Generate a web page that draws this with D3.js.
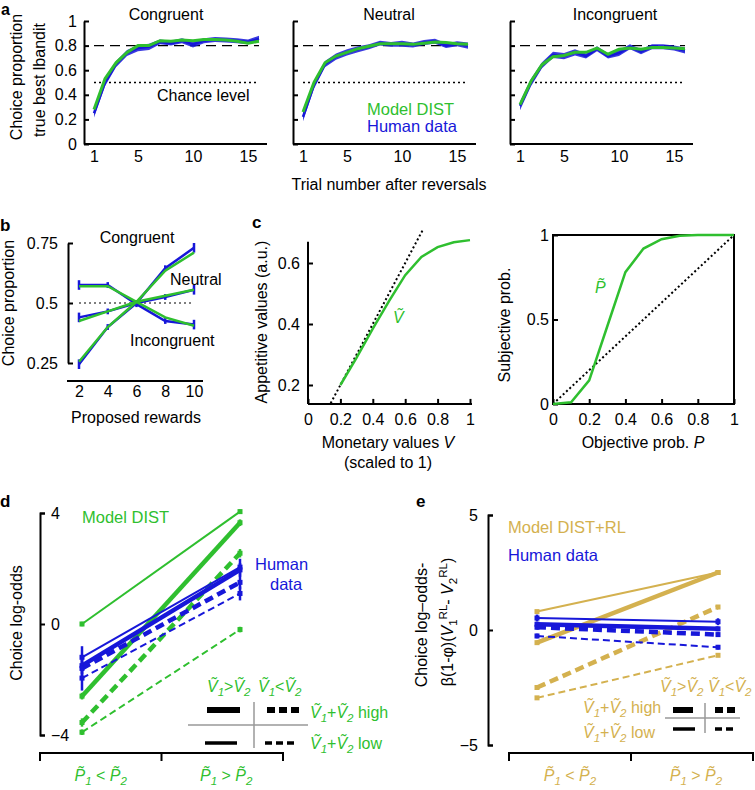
<!DOCTYPE html>
<html><head><meta charset="utf-8">
<script src="https://cdn.jsdelivr.net/npm/d3@7"></script>
<style>
body{margin:0;background:#fff}
svg{font-family:"Liberation Sans",Arial,Helvetica,sans-serif;font-size:16px}
.axis path,.axis line{stroke:#000;stroke-width:2;fill:none}
.axis text{font-size:16px;font-family:"Liberation Sans",Arial,Helvetica,sans-serif;fill:#000}
</style></head><body><script>
// ---------------- DATA ----------------
const aTrials = [1,2,3,4,5,6,7,8,9,10,11,12,13,14,15,16];
const aXTicks = [1,5,10,15];
const aYTicks = [0,0.2,0.4,0.6,0.8,1];
const congHuman = [0.25,0.50,0.65,0.74,0.78,0.79,0.83,0.82,0.84,0.81,0.84,0.85,0.845,0.84,0.83,0.855];
const congModel = [0.28,0.53,0.66,0.745,0.80,0.80,0.84,0.835,0.845,0.84,0.85,0.85,0.845,0.835,0.82,0.835];
const neutHuman = [0.22,0.48,0.65,0.71,0.745,0.77,0.79,0.82,0.81,0.815,0.805,0.825,0.835,0.80,0.815,0.80];
const neutModel = [0.26,0.50,0.66,0.715,0.745,0.775,0.795,0.815,0.815,0.815,0.81,0.82,0.83,0.825,0.815,0.81];
const incHuman  = [0.31,0.50,0.64,0.725,0.715,0.745,0.715,0.775,0.715,0.74,0.79,0.75,0.79,0.79,0.78,0.76];
const incModel  = [0.32,0.51,0.645,0.71,0.72,0.745,0.745,0.78,0.73,0.77,0.78,0.77,0.785,0.785,0.78,0.775];
const humanBandHalf = [0.035,0.03,0.025,0.025,0.025,0.025,0.02,0.02,0.02,0.025,0.02,0.02,0.02,0.02,0.02,0.025];
const aOptimal = 0.8, aChance = 0.5;

const bRewards = [2,4,6,8,10];
const bYTicks = [0.25,0.5,0.75];
const bCongHuman = [0.245,0.40,0.50,0.645,0.73];
const bCongModel = [0.255,0.40,0.505,0.635,0.71];
const bNeutHuman = [0.44,0.465,0.50,0.525,0.555];
const bNeutModel = [0.425,0.465,0.505,0.53,0.555];
const bIncHuman  = [0.575,0.575,0.495,0.425,0.41];
const bIncModel  = [0.57,0.57,0.505,0.44,0.405];
const bHumanErr  = [0.02,0.012,0.012,0.012,0.02];

const cMonetary   = [0.2,0.3,0.4,0.5,0.6,0.7,0.8,0.9,1.0];
const cAppetitive = [0.2,0.29,0.385,0.475,0.56,0.62,0.652,0.668,0.675];
const cIdentityV  = [0.14,0.71];
const cVXTicks = [0,0.2,0.4,0.6,0.8,1];
const cVYTicks = [0.2,0.4,0.6];
const cVYLimits = [0.138,0.67];
const cObjective  = [0,0.1,0.2,0.3,0.4,0.5,0.6,0.7,0.8,0.9,1];
const cSubjective = [0,0.01,0.14,0.46,0.78,0.92,0.975,0.995,1,1,1];
const cPXTicks = [0,0.2,0.4,0.6,0.8,1];
const cPYTicks = [0,0.5,1];

// conditions: [V1>V2 & sum low, V1>V2 & sum high, V1<V2 & sum high, V1<V2 & sum low]
const conditions = ["gt-low","gt-high","lt-high","lt-low"];
const dCats = ["P1<P2","P1>P2"];
const dYTicks = [-4,0,4];
const dModelLeft  = [0.0,-2.6,-3.55,-3.9];
const dModelRight = [4.05,3.65,2.55,-0.2];
const dModelErr   = [0.08,0.12,0.15,0.1];
const dHumanLeft  = [-1.2,-1.5,-1.6,-1.95];
const dHumanRight = [2.05,1.95,1.5,1.1];
const dHumanErrL  = [0.4,0.3,0.35,0.45];
const dHumanErrR  = [0.3,0.25,0.25,0.25];

const eYTicks = [-5,0,5];
const eModelLeft  = [0.8,-0.55,-2.5,-2.95];
const eModelRight = [2.5,2.5,1.0,-1.1];
const eHumanLeft  = [0.52,0.25,0.12,-0.26];
const eHumanRight = [0.36,0.05,-0.2,-0.75];
const eHumanErr   = [0.15,0.1,0.1,0.1];

// ---------------- STYLE ----------------
const GREEN = "#2fbf2f", BLUE = "#1717d9", GOLD = "#d4b14f";
const svg = d3.select("body").append("svg").attr("width",755).attr("height",790);

function txt(x,y,s,o={}){
  const t = svg.append("text").attr("x",x).attr("y",y).text(s)
    .attr("text-anchor",o.anchor||"start").attr("fill",o.color||"#000")
    .style("font-size",(o.size||16)+"px").style("font-weight",o.bold?"bold":"normal");
  if(o.rot) t.attr("transform",`rotate(-90,${x},${y})`);
  if(o.italic) t.style("font-style","italic");
  return t;
}
function rich(x,y,parts,o={}){
  const fs = o.size||16;
  const t = svg.append("text").attr("x",x).attr("y",y)
    .attr("text-anchor",o.anchor||"start").attr("fill",o.color||"#000").style("font-size",fs+"px");
  if(o.rot) t.attr("transform",`rotate(-90,${x},${y})`);
  let cur=0;
  parts.forEach(p=>{
    const target = p.sub?4:(p.sup?-6:0);
    const s = t.append("tspan").text(p.t).attr("dy",target-cur);
    cur=target;
    if(p.i) s.style("font-style","italic");
    if(p.sub||p.sup) s.style("font-size",(fs*0.72)+"px");
  });
  return t;
}
const Vt = "\u1E7C", Pt = "P\u0303";

// ---------------- PANEL A ----------------
const yA = d3.scaleLinear().domain([0,1]).range([144,21]);
function panelA(ax, title, titleX, human, model, showY){
  const x = d3.scaleLinear().domain([1,16]).range([ax+10, ax+175]);
  const g = svg.append("g");
  g.append("g").attr("class","axis").attr("transform",`translate(${ax},0)`)
    .call(d3.axisLeft(yA).tickValues(aYTicks).tickSizeInner(-5).tickSizeOuter(0).tickPadding(7)
      .tickFormat(showY? (d=>String(d)) : ""));
  g.append("line").attr("x1",ax).attr("x2",ax+183).attr("y1",yA(0)).attr("y2",yA(0))
    .attr("stroke","#000").attr("stroke-width",2);
  const xa = g.append("g").attr("class","axis").attr("transform",`translate(0,${yA(0)})`)
    .call(d3.axisBottom(x).tickValues(aXTicks).tickSize(0).tickPadding(7));
  xa.select(".domain").remove();
  g.append("line").attr("x1",x(1)).attr("x2",x(16)).attr("y1",yA(aOptimal)).attr("y2",yA(aOptimal))
    .attr("stroke","#000").attr("stroke-width",1.2).attr("stroke-dasharray","10,6");
  g.append("line").attr("x1",x(1)).attr("x2",x(16)).attr("y1",yA(aChance)).attr("y2",yA(aChance))
    .attr("stroke","#000").attr("stroke-width",1.3).attr("stroke-dasharray","2,3");
  const area = d3.area().x((d,i)=>x(aTrials[i])).y0((d,i)=>yA(d-humanBandHalf[i])).y1((d,i)=>yA(d+humanBandHalf[i]));
  g.append("path").attr("d",area(human)).attr("fill",BLUE).attr("opacity",0.85);
  const line = d3.line().x((d,i)=>x(aTrials[i])).y(d=>yA(d));
  g.append("path").attr("d",line(human)).attr("fill","none").attr("stroke",BLUE).attr("stroke-width",2.5);
  g.append("path").attr("d",line(model)).attr("fill","none").attr("stroke",GREEN).attr("stroke-width",3);
  txt(titleX,20,title,{anchor:"middle"});
}
panelA(84,"Congruent",166,congHuman,congModel,true);
panelA(293,"Neutral",389,neutHuman,neutModel,false);
panelA(510,"Incongruent",615,incHuman,incModel,false);
txt(1,15,"a",{bold:true,size:16});
txt(22,77,"Choice proportion",{anchor:"middle",rot:true});
txt(45,80,"true best lbandit",{anchor:"middle",rot:true});
txt(157,101,"Chance level");
txt(367,115,"Model DIST",{color:GREEN,size:16.5});
txt(367,132,"Human data",{color:BLUE,size:16.5});
txt(389,190,"Trial number after reversals",{anchor:"middle"});

// ---------------- PANEL B ----------------
const xB = d3.scaleLinear().domain([2,10]).range([79,194]);
const yB = d3.scaleLinear().domain([0.25,0.75]).range([363,243]);
svg.append("g").attr("class","axis").attr("transform","translate(68,0)")
  .call(d3.axisLeft(yB).tickValues(bYTicks).tickSizeInner(-5).tickSizeOuter(0).tickPadding(10).tickFormat(d=>String(d)));
svg.append("line").attr("x1",67).attr("x2",203).attr("y1",381).attr("y2",381).attr("stroke","#000").attr("stroke-width",2);
{
  const xa = svg.append("g").attr("class","axis").attr("transform","translate(0,381)")
    .call(d3.axisBottom(xB).tickValues(bRewards).tickSize(0).tickPadding(5));
  xa.select(".domain").remove();
}
svg.append("line").attr("x1",xB(2)).attr("x2",xB(10)).attr("y1",yB(0.5)).attr("y2",yB(0.5))
  .attr("stroke","#000").attr("stroke-width",1.2).attr("stroke-dasharray","2,3");
const lineB = d3.line().x((d,i)=>xB(bRewards[i])).y(d=>yB(d));
[bCongHuman,bNeutHuman,bIncHuman].forEach(arr=>{
  svg.append("path").attr("d",lineB(arr)).attr("fill","none").attr("stroke",BLUE).attr("stroke-width",2.5);
  arr.forEach((v,i)=>{
    const xx = xB(bRewards[i]);
    svg.append("line").attr("x1",xx).attr("x2",xx).attr("y1",yB(v-bHumanErr[i])).attr("y2",yB(v+bHumanErr[i]))
      .attr("stroke",BLUE).attr("stroke-width",2.5);
  });
});
[bCongModel,bNeutModel,bIncModel].forEach(arr=>{
  svg.append("path").attr("d",lineB(arr)).attr("fill","none").attr("stroke",GREEN).attr("stroke-width",2.5);
});
txt(0,231,"b",{bold:true,size:17});
txt(14,303,"Choice proportion",{anchor:"middle",rot:true});
txt(137,243,"Congruent",{anchor:"middle"});
txt(170,285,"Neutral");
txt(130,346,"Incongruent");
txt(136,423,"Proposed rewards",{anchor:"middle"});

// ---------------- PANEL C (left) ----------------
const xCV = d3.scaleLinear().domain([0,1]).range([308,470]);
const yCV = d3.scaleLinear().domain([0.2,0.6]).range([385,263]);
svg.append("line").attr("x1",xCV(0)).attr("x2",xCV(0)).attr("y1",yCV(cVYLimits[0])).attr("y2",yCV(cVYLimits[1]))
  .attr("stroke","#000").attr("stroke-width",2);
svg.append("line").attr("x1",xCV(0)).attr("x2",xCV(1)+2).attr("y1",yCV(cVYLimits[0])).attr("y2",yCV(cVYLimits[0]))
  .attr("stroke","#000").attr("stroke-width",2);
{
  const ya = svg.append("g").attr("class","axis").attr("transform",`translate(${xCV(0)},0)`)
    .call(d3.axisLeft(yCV).tickValues(cVYTicks).tickSizeInner(-5).tickSizeOuter(0).tickPadding(8).tickFormat(d=>String(d)));
  ya.select(".domain").remove();
  const xa = svg.append("g").attr("class","axis").attr("transform",`translate(0,${yCV(cVYLimits[0])})`)
    .call(d3.axisBottom(xCV).tickValues(cVXTicks).tickSizeInner(-5).tickSizeOuter(0).tickPadding(9.5).tickFormat(d=>String(d)));
  xa.select(".domain").remove();
}
svg.append("line").attr("x1",xCV(cIdentityV[0])).attr("x2",xCV(cIdentityV[1]))
  .attr("y1",yCV(cIdentityV[0])).attr("y2",yCV(cIdentityV[1]))
  .attr("stroke","#000").attr("stroke-width",2).attr("stroke-dasharray","2,2.5");
svg.append("path").attr("d",d3.line().x((d,i)=>xCV(cMonetary[i])).y(d=>yCV(d))(cAppetitive))
  .attr("fill","none").attr("stroke",GREEN).attr("stroke-width",2.5);
txt(393,323,Vt,{color:GREEN,italic:true});
txt(252,228,"c",{bold:true,size:17});
txt(267,322,"Appetitive values (a.u.)",{anchor:"middle",rot:true});
rich(388,448,[{t:"Monetary values "},{t:"V",i:1}],{anchor:"middle"});
txt(388,468,"(scaled to 1)",{anchor:"middle"});

// ---------------- PANEL C (right) ----------------
const xCP = d3.scaleLinear().domain([0,1]).range([553,734]);
const yCP = d3.scaleLinear().domain([0,1]).range([404,235]);
svg.append("rect").attr("x",xCP(0)).attr("y",yCP(1)).attr("width",xCP(1)-xCP(0)).attr("height",yCP(0)-yCP(1))
  .attr("fill","none").attr("stroke","#000").attr("stroke-width",2);
{
  const ya = svg.append("g").attr("class","axis").attr("transform",`translate(${xCP(0)},0)`)
    .call(d3.axisLeft(yCP).tickValues(cPYTicks).tickSizeInner(-5).tickSizeOuter(0).tickPadding(4).tickFormat(d=>String(d)));
  ya.select(".domain").remove();
  const xa = svg.append("g").attr("class","axis").attr("transform",`translate(0,${yCP(0)})`)
    .call(d3.axisBottom(xCP).tickValues(cPXTicks).tickSizeInner(-5).tickSizeOuter(0).tickPadding(9.5).tickFormat(d=>String(d)));
  xa.select(".domain").remove();
}
svg.append("line").attr("x1",xCP(0)).attr("x2",xCP(1)).attr("y1",yCP(0)).attr("y2",yCP(1))
  .attr("stroke","#000").attr("stroke-width",2).attr("stroke-dasharray","2,2.5");
svg.append("path").attr("d",d3.line().x((d,i)=>xCP(cObjective[i])).y(d=>yCP(d))(cSubjective))
  .attr("fill","none").attr("stroke",GREEN).attr("stroke-width",2.5);
txt(595,293,Pt,{color:GREEN,italic:true});
txt(510,325,"Subjective prob.",{anchor:"middle",rot:true});
rich(643,448,[{t:"Objective prob.  "},{t:"P",i:1}],{anchor:"middle"});

// ---------------- PANELS D & E helpers ----------------
function condStyle(c){
  const thick = c.endsWith("high");
  const dashed = c.startsWith("lt");
  return {w: thick?4.5:2, dash: dashed ? (thick?"9,5":"7,4") : null};
}
function drawLines(xS,yS,left,right,color,errL,errR,markers){
  conditions.forEach((c,i)=>{
    const st = condStyle(c);
    const p = svg.append("line").attr("x1",xS(0)).attr("x2",xS(1)).attr("y1",yS(left[i])).attr("y2",yS(right[i]))
      .attr("stroke",color).attr("stroke-width",st.w);
    if(st.dash) p.attr("stroke-dasharray",st.dash);
    [[0,left[i],errL[i]],[1,right[i],errR[i]]].forEach(([k,v,e])=>{
      svg.append("line").attr("x1",xS(k)).attr("x2",xS(k)).attr("y1",yS(v-e)).attr("y2",yS(v+e))
        .attr("stroke",color).attr("stroke-width",2.5);
      if(markers) svg.append("rect").attr("x",xS(k)-2.5).attr("y",yS(v)-2.5).attr("width",5).attr("height",5).attr("fill",color);
    });
  });
}

// ---------------- PANEL D ----------------
const xD = d3.scaleLinear().domain([0,1]).range([82,240]);
const yD = d3.scaleLinear().domain([-4,4]).range([735,513]);
const bandD = d3.scaleBand().domain(dCats).range([40,283]);
svg.append("g").attr("class","axis").attr("transform","translate(40,0)")
  .call(d3.axisRight(yD).tickValues(dYTicks).tickSizeInner(5).tickSizeOuter(5).tickPadding(6).tickFormat(d3.format("d")));
function bracket(bs,y){
  const [r0,r1] = bs.range();
  const mid = bs(bs.domain()[1]);
  svg.append("path").attr("d",`M${r0},${y+8}V${y}H${r1}V${y+8}M${mid},${y}V${y+8}`)
    .attr("fill","none").attr("stroke","#000").attr("stroke-width",2);
}
bracket(bandD,753);
function catLabels(bs,color){
  rich(bs("P1<P2")+bs.bandwidth()/2,781,[{t:Pt,i:1},{t:"1",i:1,sub:1},{t:" < "},{t:Pt,i:1},{t:"2",i:1,sub:1}],{anchor:"middle",color});
  rich(bs("P1>P2")+bs.bandwidth()/2+4,781,[{t:Pt,i:1},{t:"1",i:1,sub:1},{t:" > "},{t:Pt,i:1},{t:"2",i:1,sub:1}],{anchor:"middle",color});
}
catLabels(bandD,GREEN);
drawLines(xD,yD,dModelLeft,dModelRight,GREEN,dModelErr,dModelErr,true);
drawLines(xD,yD,dHumanLeft,dHumanRight,BLUE,dHumanErrL,dHumanErrR,true);
txt(0,507,"d",{bold:true,size:17});
txt(22,623,"Choice log-odds",{anchor:"middle",rot:true});
txt(82,523,"Model DIST",{color:GREEN,size:16.5});
txt(255,570,"Human",{color:BLUE,size:16.5});
txt(270,590,"data",{color:BLUE,size:16.5});
// legend d
const vgt = [{t:Vt,i:1},{t:"1",i:1,sub:1},{t:">"},{t:Vt,i:1},{t:"2",i:1,sub:1}];
const vlt = [{t:Vt,i:1},{t:"1",i:1,sub:1},{t:"<"},{t:Vt,i:1},{t:"2",i:1,sub:1}];
const vhigh = [{t:Vt,i:1},{t:"1",i:1,sub:1},{t:"+"},{t:Vt,i:1},{t:"2",i:1,sub:1},{t:" high"}];
const vlow  = [{t:Vt,i:1},{t:"1",i:1,sub:1},{t:"+"},{t:Vt,i:1},{t:"2",i:1,sub:1},{t:" low"}];
function legLine(x1,x2,y,c){
  const st = condStyle(c);
  const l = svg.append("line").attr("x1",x1).attr("x2",x2).attr("y1",y).attr("y2",y).attr("stroke","#000").attr("stroke-width",st.w+1.5);
  if(st.dash) l.attr("stroke-dasharray", st.w>3 ? "8,4" : "7,4");
}
rich(207,692,vgt,{color:GREEN});
rich(258,692,vlt,{color:GREEN});
legLine(207,240,710,"gt-high");
legLine(267,300,710,"lt-high");
legLine(205,237,743,"gt-low");
legLine(265,298,743,"lt-low");
svg.append("line").attr("x1",188).attr("x2",308).attr("y1",725).attr("y2",725).attr("stroke","#999").attr("stroke-width",1.5);
svg.append("line").attr("x1",254).attr("x2",254).attr("y1",702).attr("y2",748).attr("stroke","#999").attr("stroke-width",1.5);
rich(310,718,vhigh,{color:GREEN});
rich(310,749,vlow,{color:GREEN});

// ---------------- PANEL E ----------------
const xE = d3.scaleLinear().domain([0,1]).range([537,718]);
const yE = d3.scaleLinear().domain([-5,5]).range([745,515]);
const bandE = d3.scaleBand().domain(dCats).range([509,753]);
svg.append("g").attr("class","axis").attr("transform","translate(488,0)")
  .call(d3.axisLeft(yE).tickValues(eYTicks).tickSizeInner(-5).tickSizeOuter(-5).tickPadding(10).tickFormat(d3.format("d")));
bracket(bandE,753);
catLabels(bandE,GOLD);
const zeroErr = [0,0,0,0];
drawLines(xE,yE,eModelLeft,eModelRight,GOLD,zeroErr,zeroErr,true);
drawLines(xE,yE,eHumanLeft,eHumanRight,BLUE,eHumanErr,eHumanErr,true);
txt(416,507,"e",{bold:true,size:17});
txt(427,625,"Choice log\u2013odds-",{anchor:"middle",rot:true});
rich(453,622,[{t:"\u03B2(1-\u03C6)("},{t:"V",i:1},{t:"1",sub:1},{t:"RL",sup:1},{t:"- "},{t:"V",i:1},{t:"2",sub:1},{t:"RL",sup:1},{t:")"}],{anchor:"middle",rot:true});
txt(508,533,"Model DIST+RL",{color:GOLD,size:16.5});
txt(508,561,"Human data",{color:BLUE,size:16.5});
rich(660,692,vgt,{color:GOLD});
rich(708,692,vlt,{color:GOLD});
legLine(673,693,710,"gt-high");
legLine(715,737,710,"lt-high");
legLine(673,695,729,"gt-low");
legLine(715,737,729,"lt-low");
svg.append("line").attr("x1",665).attr("x2",740).attr("y1",718).attr("y2",718).attr("stroke","#999").attr("stroke-width",1.5);
svg.append("line").attr("x1",705).attr("x2",705).attr("y1",703).attr("y2",733).attr("stroke","#999").attr("stroke-width",1.5);
rich(583,713,vhigh,{color:GOLD});
rich(583,738,vlow,{color:GOLD});
</script></body></html>
